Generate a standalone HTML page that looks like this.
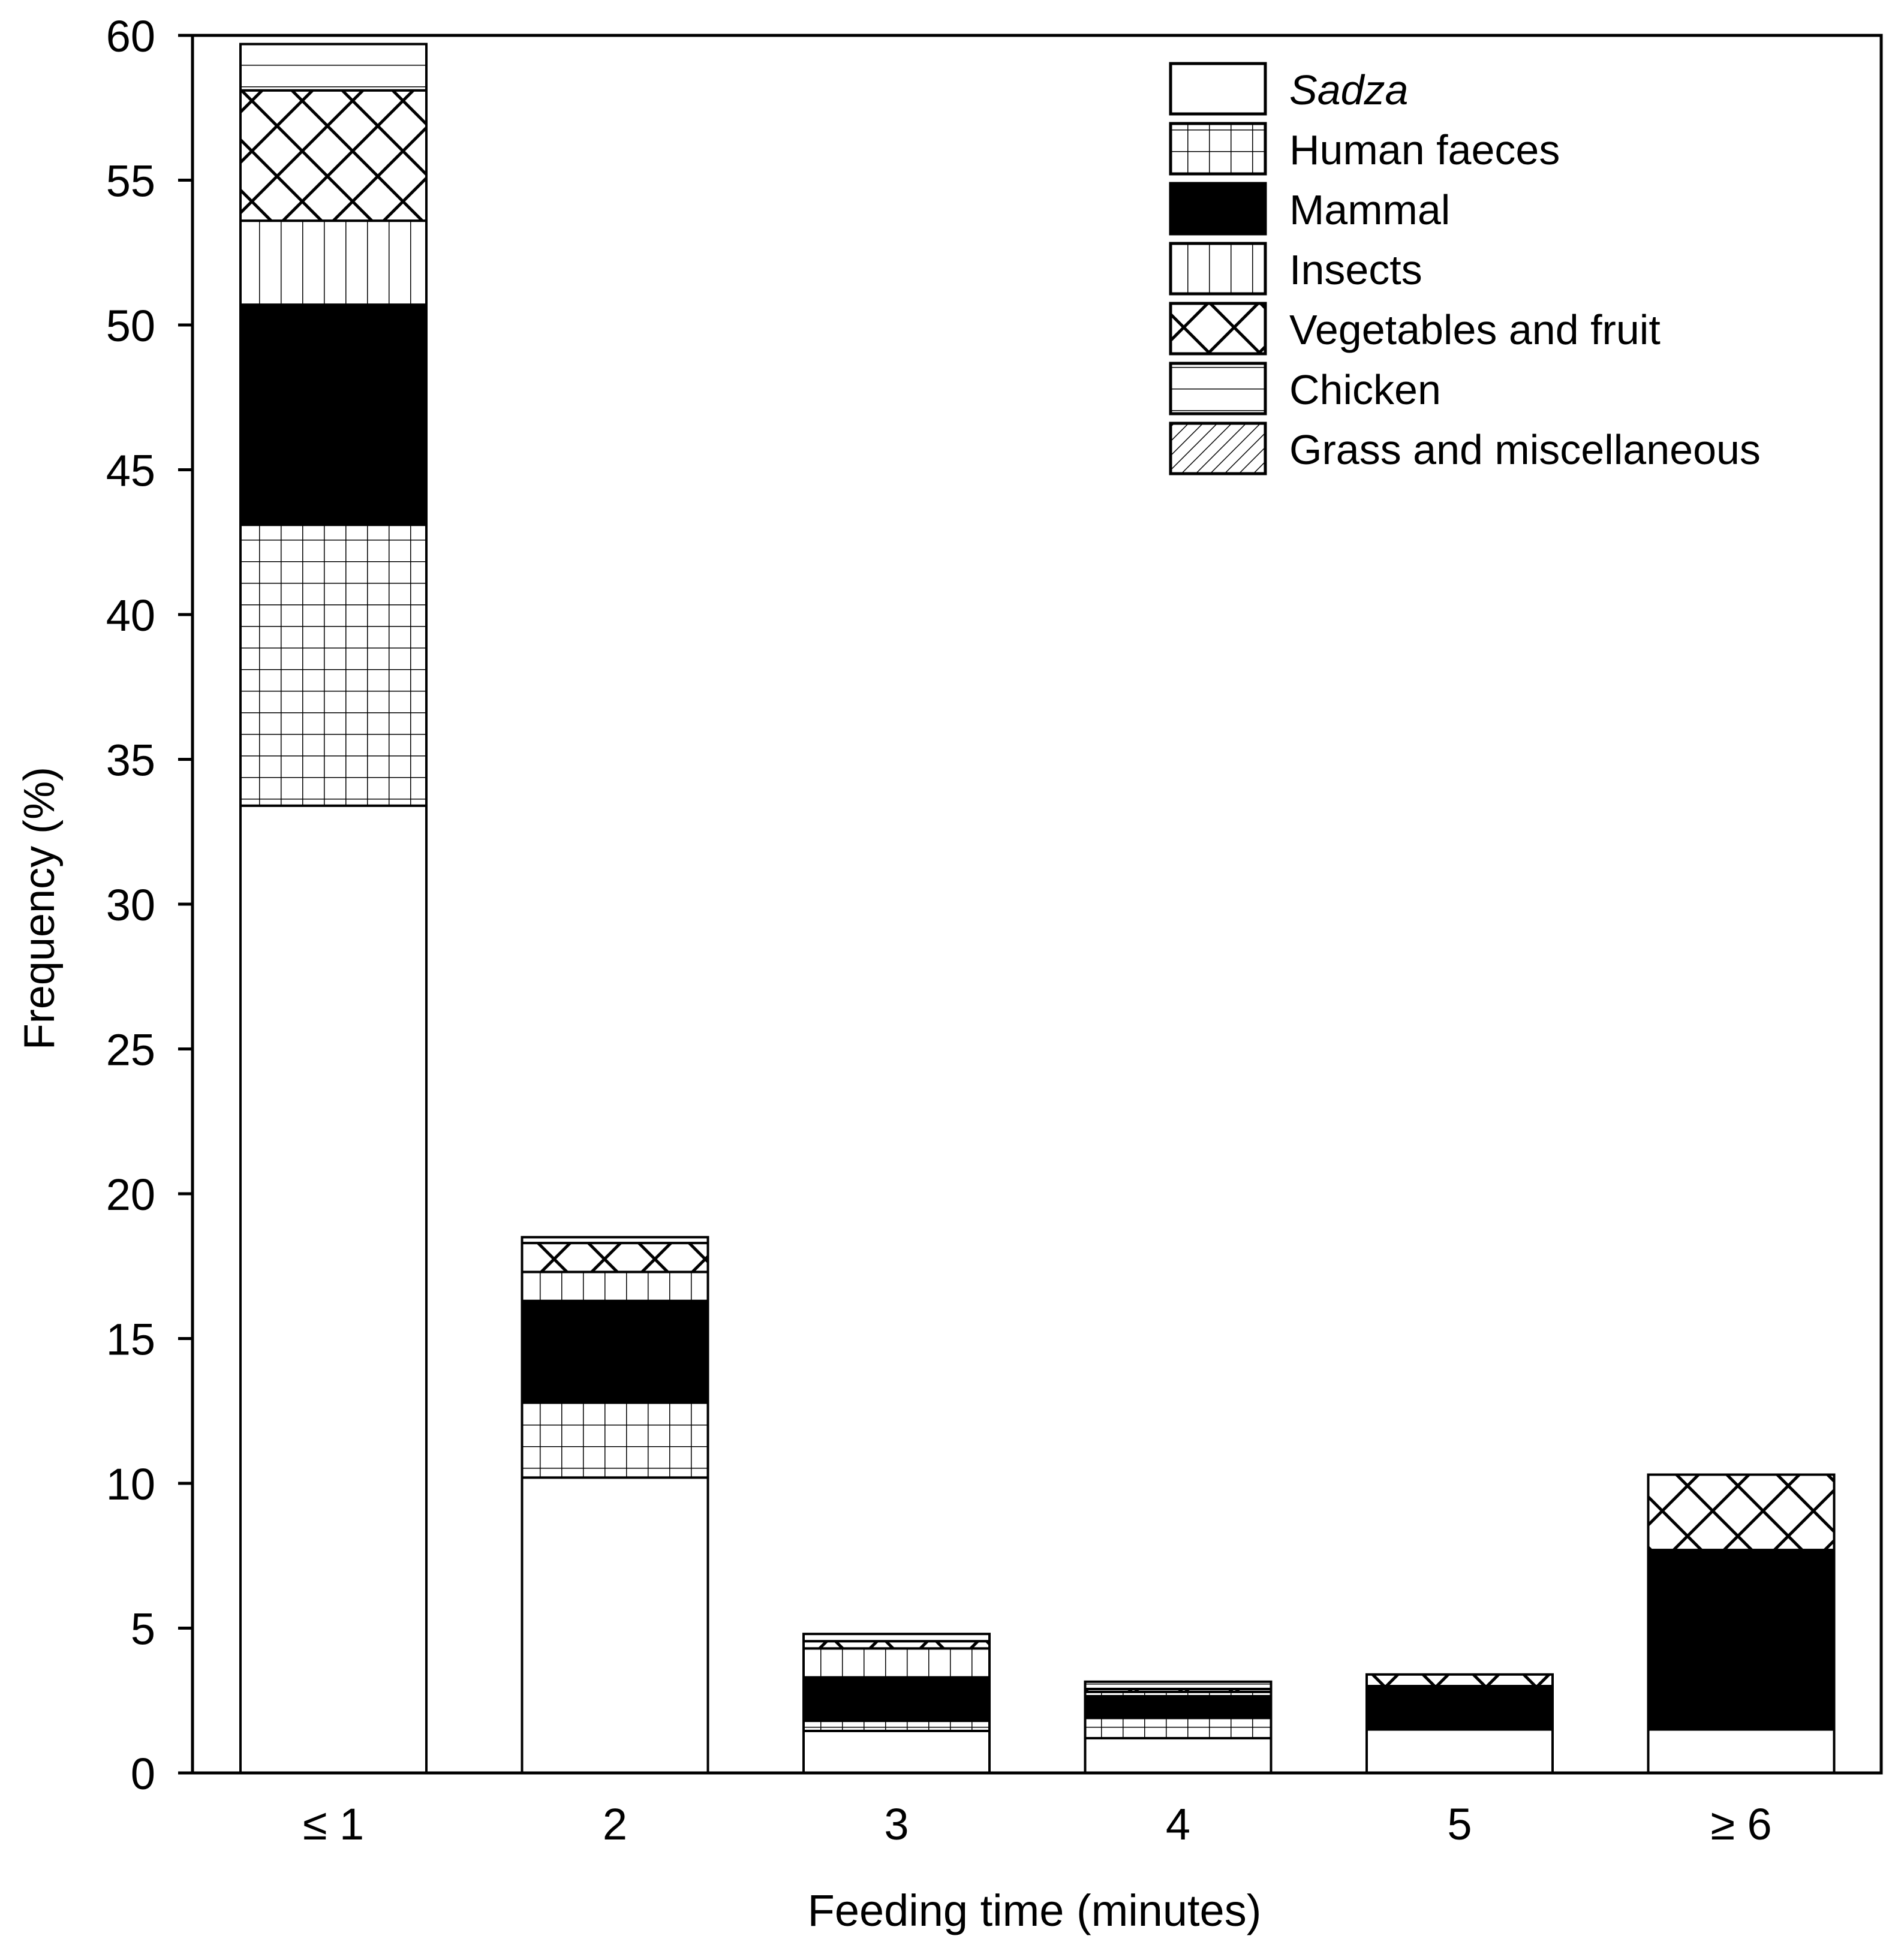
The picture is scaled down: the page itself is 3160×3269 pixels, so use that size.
<!DOCTYPE html>
<html><head><meta charset="utf-8"><style>
html,body{margin:0;padding:0;background:#fff;}
svg{display:block;font-family:"Liberation Sans",Arial,sans-serif;}
</style></head><body>
<svg id="chart" width="3160" height="3269" viewBox="0 0 3160 3269" xmlns="http://www.w3.org/2000/svg">
<defs>
<pattern id="p-none" width="36" height="36" patternUnits="userSpaceOnUse"><rect width="36" height="36" fill="#fff"/></pattern>
<pattern id="p-grid" width="36" height="36" patternUnits="userSpaceOnUse"><rect width="36" height="36" fill="#fff"/><path d="M0 0.5H36M0.5 0V36" stroke="#000" stroke-width="2"/></pattern>
<pattern id="p-solid" width="36" height="36" patternUnits="userSpaceOnUse"><rect width="36" height="36" fill="#000"/></pattern>
<pattern id="p-vert" width="36" height="36" patternUnits="userSpaceOnUse"><rect width="36" height="36" fill="#fff"/><path d="M0.5 0V36" stroke="#000" stroke-width="2"/></pattern>
<pattern id="p-cross" width="84" height="84" patternUnits="userSpaceOnUse"><rect width="84" height="84" fill="#fff"/><path d="M0 0L84 84M84 0L0 84M-10 74L10 94M74 -10L94 10M-10 10L10 -10M74 94L94 74" stroke="#000" stroke-width="5"/></pattern>
<pattern id="p-horiz" width="36" height="36" patternUnits="userSpaceOnUse"><rect width="36" height="36" fill="#fff"/><path d="M0 0.5H36" stroke="#000" stroke-width="2"/></pattern>
<pattern id="p-diag" width="24" height="24" patternUnits="userSpaceOnUse"><rect width="24" height="24" fill="#fff"/><path d="M0 24L24 0M-6 6L6 -6M18 30L30 18" stroke="#000" stroke-width="1.5"/></pattern>
</defs>
<g id="bars"></g>
<g id="axes"></g>
<g id="legend"></g>
</svg>
<script>
const categories = ["≤ 1","2","3","4","5","≥ 6"];
const seriesNames = ["Sadza","Human faeces","Mammal","Insects","Vegetables and fruit","Chicken","Grass and miscellaneous"];
const sadza = [33.4,10.2,1.45,1.2,1.5,1.5];
const humanFaeces = [9.7,2.6,0.35,0.7,0,0];
const mammal = [7.6,3.5,1.5,0.75,1.5,6.2];
const insects = [2.9,1.0,1.0,0.15,0,0];
const vegetables = [4.5,1.0,0.25,0.1,0.4,2.6];
const chicken = [1.6,0.2,0.25,0.25,0,0];
const grass = [0,0,0,0,0,0];
const yTicks = [0,5,10,15,20,25,30,35,40,45,50,55,60];

const series=[sadza,humanFaeces,mammal,insects,vegetables,chicken,grass];
const fills=["p-none","p-grid","p-solid","p-vert","p-cross","p-horiz","p-diag"];
const NS="http://www.w3.org/2000/svg";
const L=321,R=3137,T=59,B=2957,yMax=60;
const yS=v=>B-(v/yMax)*(B-T);
const step=469.5, x0=556, bw=310;
const xS=i=>x0+i*step;
function mk(tag,attrs,parent){const e=document.createElementNS(NS,tag);for(const k in attrs)e.setAttribute(k,attrs[k]);parent.appendChild(e);return e;}
const gb=document.getElementById('bars');
categories.forEach((c,i)=>{
  let cum=0;
  series.forEach((s,j)=>{
    const v=s[i]; if(!v) return;
    const r=mk('rect',{x:xS(i)-bw/2,y:yS(cum+v),width:bw,height:yS(cum)-yS(cum+v),fill:'url(#'+fills[j]+')',stroke:'#000','stroke-width':4},gb);
    
    
    cum+=v;
  });
  const t=mk('text',{x:xS(i),y:3068,'font-size':74,'text-anchor':'middle'},gb);
  t.textContent=c;
  
  
});
const ga=document.getElementById('axes');
const fr=mk('rect',{x:L,y:T,width:R-L,height:B-T,fill:'none',stroke:'#000','stroke-width':5},ga);


yTicks.forEach(v=>{
  const ln=mk('line',{x1:L-24,x2:L,y1:yS(v),y2:yS(v),stroke:'#000','stroke-width':5},ga);
  
  
  const t=mk('text',{x:259,y:yS(v)+27,'font-size':74,'text-anchor':'end'},ga);
  t.textContent=v;
  
  
});
const yt=mk('text',{x:0,y:0,'font-size':72,'text-anchor':'middle',transform:'translate(90,1515) rotate(-90)'},ga);
yt.textContent='Frequency (%)';


const xt=mk('text',{x:1725,y:3212,'font-size':74,'text-anchor':'middle'},ga);
xt.textContent='Feeding time (minutes)';


const gl=document.getElementById('legend');


seriesNames.forEach((n,j)=>{
  const y=106+j*100;
  const g=mk('g',{},gl);
  
  
  mk('rect',{x:1952,y:y,width:158,height:84,fill:'url(#'+fills[j]+')',stroke:'#000','stroke-width':5},g);
  const t=mk('text',{x:2150,y:y+68,'font-size':70},g);
  if(j===0) t.setAttribute('font-style','italic');
  t.textContent=n;
});
</script>
</body></html>
